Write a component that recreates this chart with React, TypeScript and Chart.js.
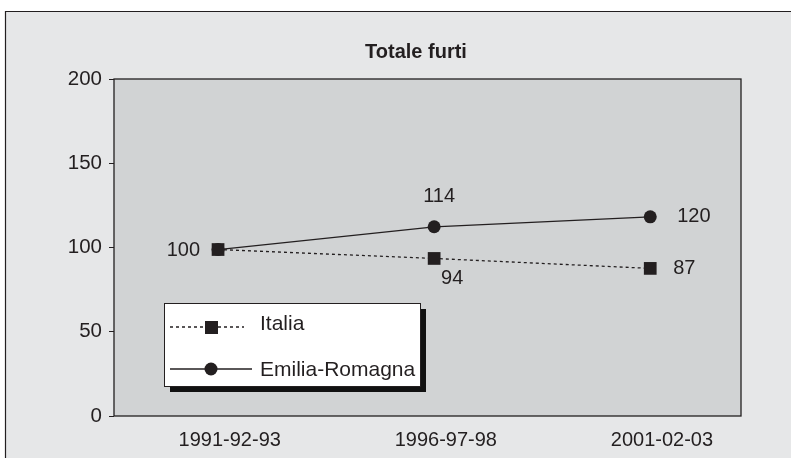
import React, { useEffect, useRef } from "react";
import { Chart, registerables } from "chart.js";

Chart.register(...registerables);

const categories = ["1991-92-93", "1996-97-98", "2001-02-03"];
const italiaValues = [98.8, 93.5, 87.6];
const emiliaValues = [98.8, 112.3, 118.2];
const italiaLabels = ["", "94", "87"];
const emiliaLabels = ["100", "114", "120"];
const yTicks = [0, 50, 100, 150, 200];
const titleText = "Totale furti";
const seriesNames = ["Italia", "Emilia-Romagna"];

const FONT = "'Liberation Sans', Arial, Helvetica, sans-serif";
const INK = "#231f20";

const decorPlugin = {
  id: "decor",
  beforeDraw(chart: any) {
    const ctx = chart.ctx;
    const { width, height, chartArea } = chart;
    ctx.save();
    ctx.fillStyle = "#ffffff";
    ctx.fillRect(0, 0, width, height);
    ctx.fillStyle = "#e6e7e8";
    ctx.fillRect(5, 11, width, height);
    ctx.strokeStyle = INK;
    ctx.lineWidth = 1.2;
    ctx.beginPath();
    ctx.moveTo(5.5, height + 2);
    ctx.lineTo(5.5, 11.5);
    ctx.lineTo(width + 2, 11.5);
    ctx.stroke();
    ctx.fillStyle = "#d1d3d4";
    ctx.fillRect(chartArea.left, chartArea.top, chartArea.right - chartArea.left, chartArea.bottom - chartArea.top);
    // title
    ctx.fillStyle = INK;
    ctx.font = `bold 20px ${FONT}`;
    ctx.textAlign = "center";
    ctx.textBaseline = "alphabetic";
    ctx.fillText(titleText, 416, 58);
    ctx.restore();
  },
  beforeDatasetsDraw(chart: any) {
    const ctx = chart.ctx;
    const { chartArea } = chart;
    ctx.save();
    ctx.strokeStyle = INK;
    ctx.lineWidth = 1.3;
    ctx.strokeRect(chartArea.left, chartArea.top, chartArea.right - chartArea.left, chartArea.bottom - chartArea.top);
    ctx.restore();
  },
  afterDatasetsDraw(chart: any) {
    const ctx = chart.ctx;
    ctx.save();
    ctx.fillStyle = INK;
    ctx.font = `20px ${FONT}`;
    ctx.textBaseline = "middle";
    const it = chart.getDatasetMeta(0).data;
    const em = chart.getDatasetMeta(1).data;
    // Emilia labels
    ctx.textAlign = "right";
    ctx.fillText(emiliaLabels[0], em[0].x - 18, em[0].y + 1);
    ctx.textAlign = "center";
    ctx.fillText(emiliaLabels[1], em[1].x + 5, em[1].y - 30);
    ctx.textAlign = "left";
    ctx.fillText(emiliaLabels[2], em[2].x + 27, em[2].y);
    // Italia labels
    ctx.textAlign = "center";
    ctx.fillText(italiaLabels[1], it[1].x + 18, it[1].y + 20);
    ctx.textAlign = "left";
    ctx.fillText(italiaLabels[2], it[2].x + 23, it[2].y);

    // legend
    const bx = 164, by = 303, bw = 256, bh = 83;
    ctx.fillStyle = "#111111";
    ctx.fillRect(bx + 6, by + 6, bw, bh);
    ctx.fillStyle = "#ffffff";
    ctx.fillRect(bx, by, bw, bh);
    ctx.strokeStyle = INK;
    ctx.lineWidth = 1;
    ctx.strokeRect(bx + 0.5, by + 0.5, bw, bh);

    ctx.lineWidth = 1.3;
    // Italia row
    ctx.setLineDash([3, 3]);
    ctx.beginPath();
    ctx.moveTo(170, 327);
    ctx.lineTo(244, 327);
    ctx.stroke();
    ctx.setLineDash([]);
    ctx.fillStyle = INK;
    ctx.fillRect(205, 321, 13, 13);
    // Emilia row
    ctx.beginPath();
    ctx.moveTo(170, 369);
    ctx.lineTo(252, 369);
    ctx.stroke();
    ctx.beginPath();
    ctx.arc(211, 369, 6.5, 0, Math.PI * 2);
    ctx.fill();
    ctx.font = `21px ${FONT}`;
    ctx.textAlign = "left";
    ctx.textBaseline = "middle";
    ctx.fillText(seriesNames[0], 260, 324);
    ctx.fillText(seriesNames[1], 260, 370);
    ctx.restore();
  },
};

export default function App() {
  const ref = useRef<HTMLCanvasElement>(null);
  useEffect(() => {
    if (!ref.current) return;
    const chart = new Chart(ref.current, {
      type: "line",
      data: {
        datasets: [
          {
            label: seriesNames[0],
            data: italiaValues.map((v, i) => ({ x: i, y: v })),
            borderColor: INK,
            backgroundColor: INK,
            borderWidth: 1.3,
            borderDash: [3, 3],
            pointStyle: "rect",
            pointRadius: 9,
            pointBorderWidth: 0,
            pointBackgroundColor: INK,
            tension: 0,
          },
          {
            label: seriesNames[1],
            data: emiliaValues.map((v, i) => ({ x: i, y: v })),
            borderColor: INK,
            backgroundColor: INK,
            borderWidth: 1.3,
            pointStyle: "circle",
            pointRadius: 6.5,
            pointBorderWidth: 0,
            pointBackgroundColor: INK,
            tension: 0,
          },
        ],
      },
      options: {
        responsive: false,
        animation: false,
        devicePixelRatio: 1,
        layout: { padding: { left: 0, right: 50, top: 79, bottom: 0 } },
        plugins: { legend: { display: false }, title: { display: false }, tooltip: { enabled: false } },
        scales: {
          x: {
            type: "linear",
            min: -0.4815,
            max: 2.42,
            afterBuildTicks: (scale: any) => {
              scale.ticks = categories.map((_, i) => ({ value: i + 0.054 }));
            },
            afterFit: (scale: any) => {
              scale.height = 42;
            },
            grid: { display: false, drawTicks: false },
            border: { display: false },
            ticks: {
              padding: 12,
              color: INK,
              font: { family: FONT, size: 20 },
              maxRotation: 0,
              autoSkip: false,
              callback: (_v: any, i: number) => categories[i],
            },
          },
          y: {
            min: 0,
            max: 200,
            afterBuildTicks: (scale: any) => {
              scale.ticks = yTicks.map((v) => ({ value: v }));
            },
            afterFit: (scale: any) => {
              scale.width = 114;
            },
            grid: { drawOnChartArea: false, drawTicks: true, tickLength: 5, color: INK, lineWidth: 1 },
            border: { display: false },
            ticks: {
              padding: 7,
              color: INK,
              font: { family: FONT, size: 20.5 },
              callback: (v: any) => String(v),
            },
          },
        },
      },
      plugins: [decorPlugin],
    } as any);
    return () => chart.destroy();
  }, []);
  return (
    <div style={{ position: "absolute", left: 0, top: 0, width: 791, height: 458 }}>
      <canvas ref={ref} width={791} height={458} style={{ width: 791, height: 458, display: "block" }} />
    </div>
  );
}
